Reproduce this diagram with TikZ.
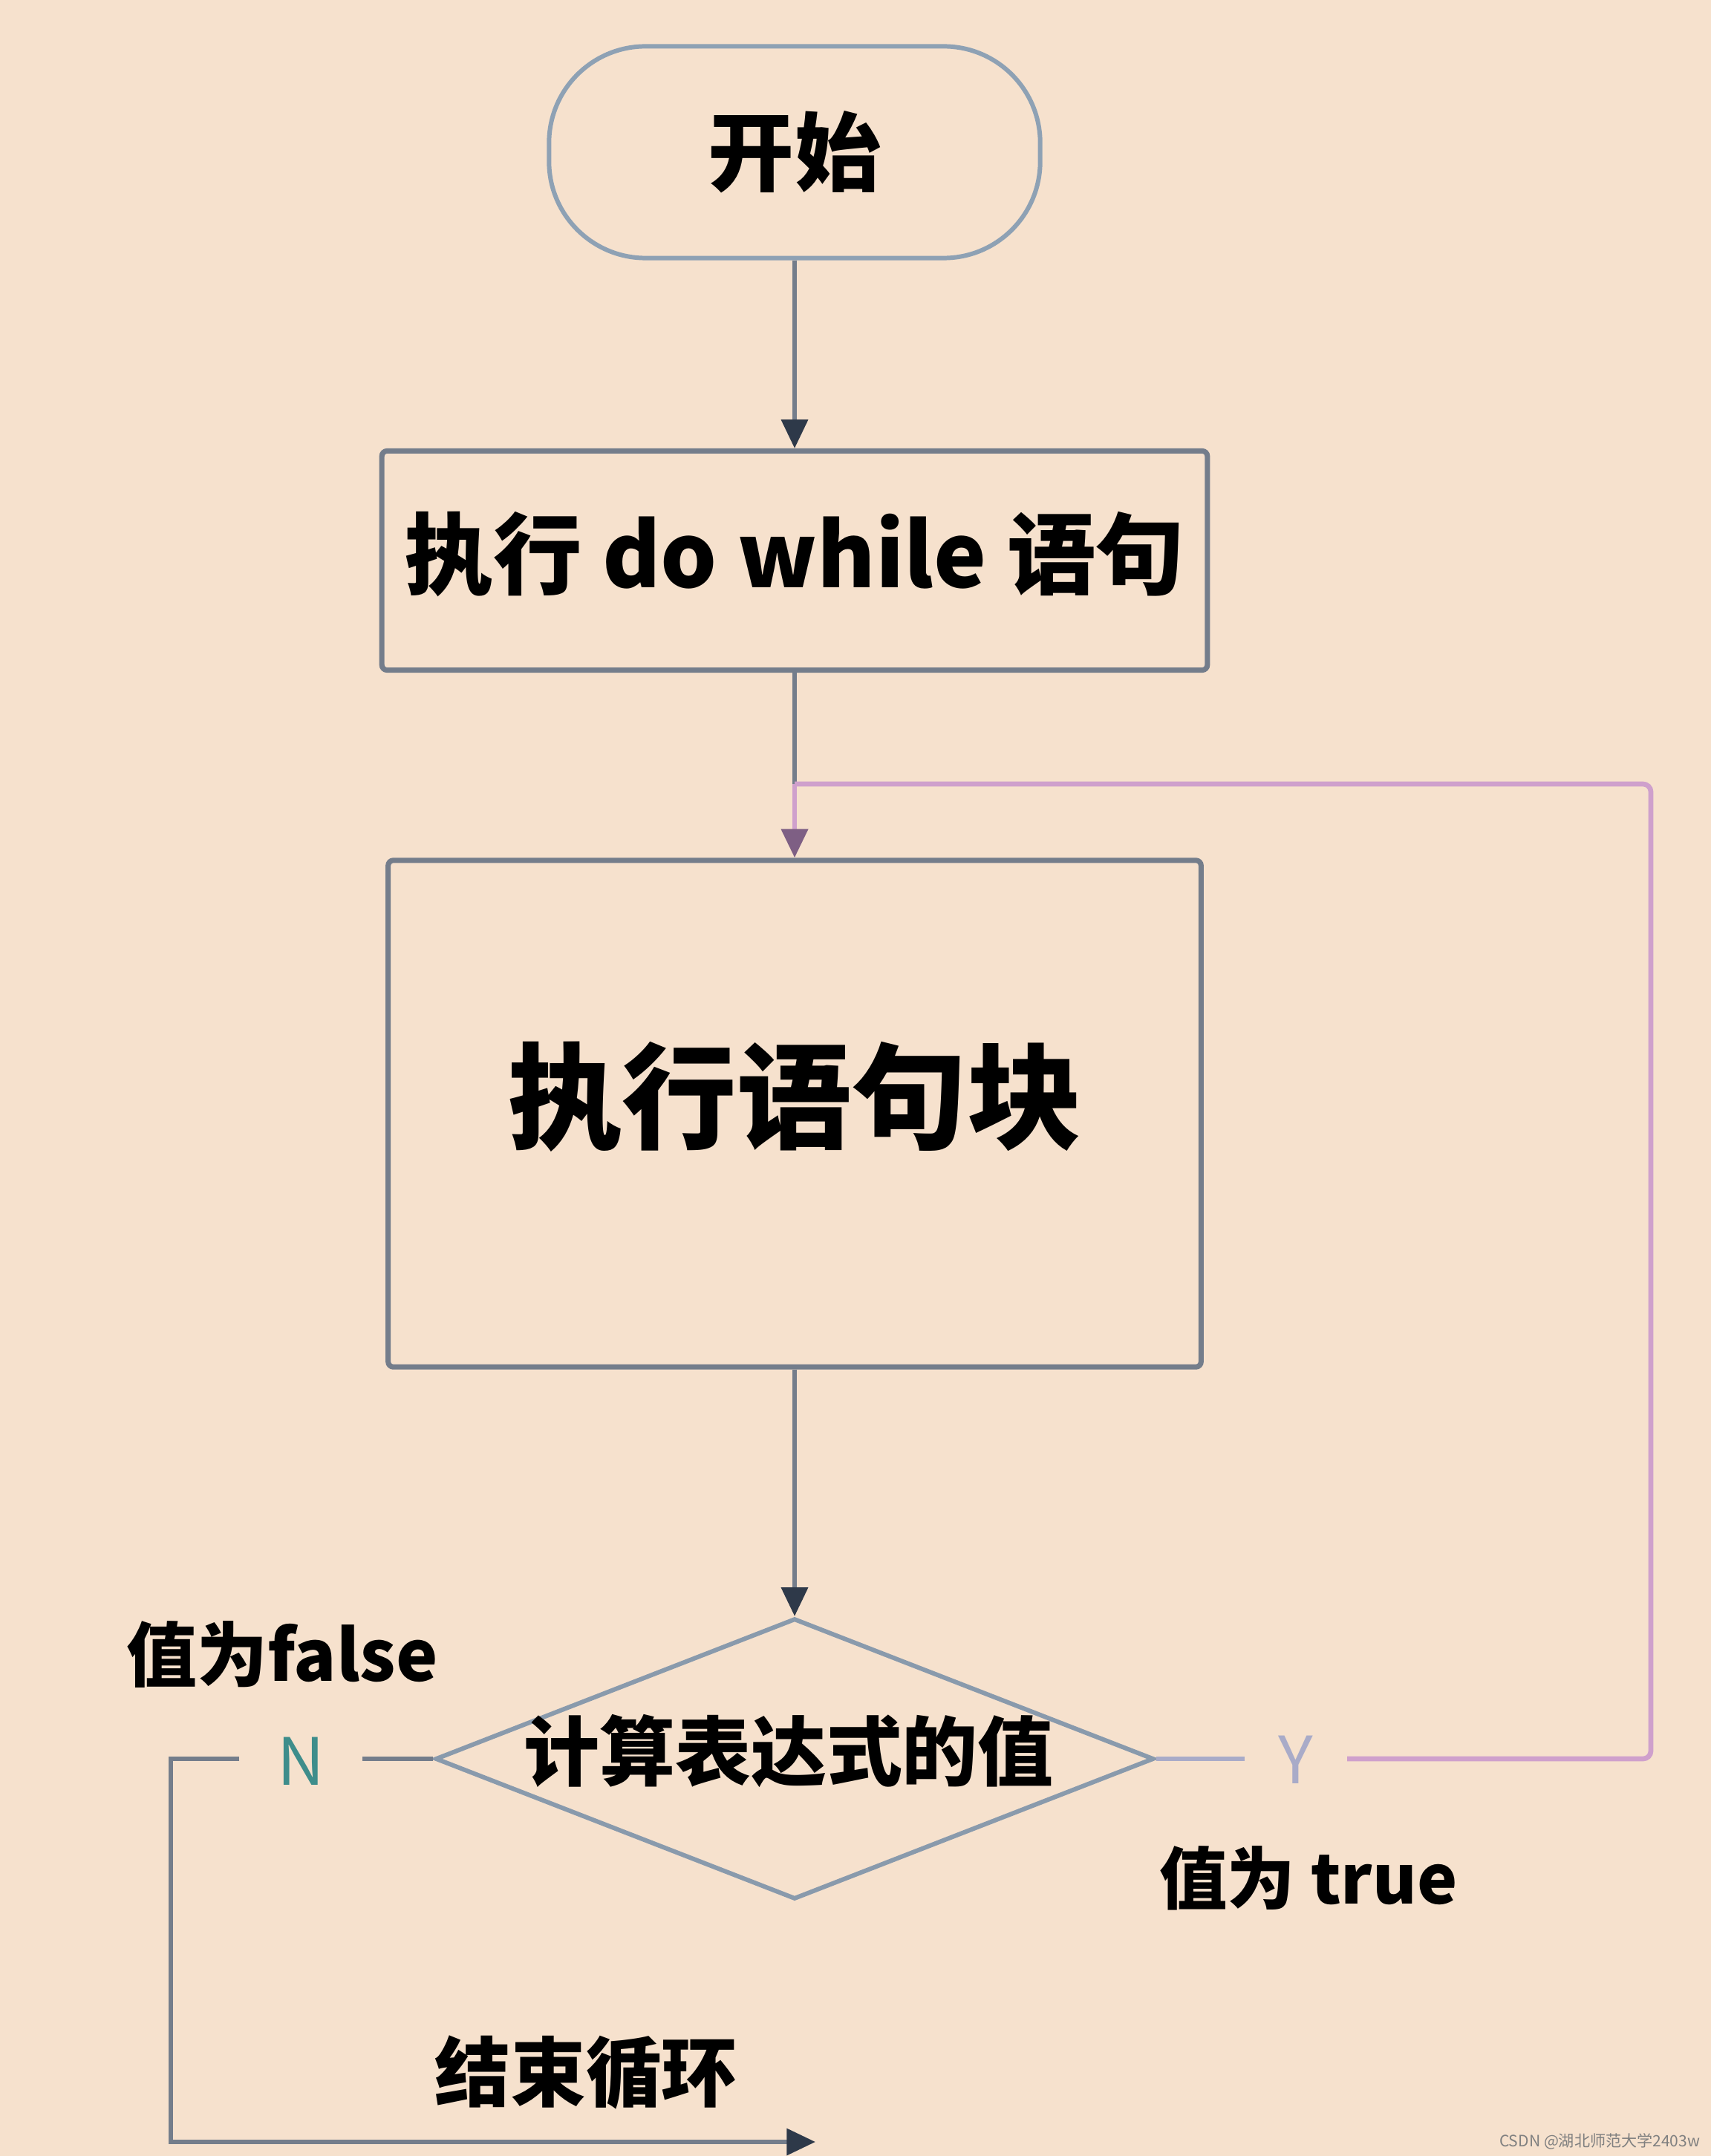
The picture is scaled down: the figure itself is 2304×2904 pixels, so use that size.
\documentclass[tikz,border=0pt]{standalone}
\usepackage{fontspec}
\newfontfamily\cjk{Noto Sans CJK SC}
\usetikzlibrary{arrows.meta,shapes.geometric,positioning}
\definecolor{paper}{HTML}{F6E1CD}
\definecolor{edge}{HTML}{747D8B}
\definecolor{rim}{HTML}{8EA1B4}
\definecolor{loopline}{HTML}{CFA0CC}
\definecolor{tipdark}{HTML}{2E3949}
\definecolor{tipmauve}{HTML}{7E5F84}
\definecolor{nmark}{HTML}{3E8D8B}
\definecolor{ymark}{HTML}{A9ABC8}

\begin{document}
\begin{tikzpicture}[x=.01cm,y=-.01cm,
 box/.style={draw=edge,line width=2pt,rounded corners=2pt,inner sep=0pt},
 flow/.style={draw=edge,line width=1.7pt},
 back/.style={draw=loopline,line width=1.9pt,rounded corners=3pt},
 arrowhead/.style={-{Triangle[length=11pt,width=10pt,color=#1]}},arrowhead/.default=tipdark,
 zh/.style={font=\cjk\bfseries\fontsize{#1}{#1}\selectfont,inner sep=0pt},
 mark/.style={font=\cjk\fontsize{25}{25}\selectfont,text=#1,inner ysep=0pt}]
\fill[paper](0,0)rectangle(2304,2904);\useasboundingbox(0,0)rectangle(2304,2904);
\node[box,draw=rim,line width=1.7pt,rounded corners=1.3cm,minimum width=6.61cm,minimum height=2.85cm,zh=33](start)at(1070,205){开始};
\node[box,minimum width=11.11cm,minimum height=2.95cm,zh=34](stmt)at(1070,755){\raisebox{.3cm}{执行 do while 语句}};
\node[box,minimum width=10.94cm,minimum height=6.82cm,zh=44](block)at(1070,1500){\raisebox{.62cm}{执行语句块}};
\node[diamond,draw=rim!80!edge,line width=1.7pt,inner sep=0pt,minimum width=9.67cm,minimum height=3.78cm](cond)at(1070,2369){};
\node[zh=29](condtext)at(1062,2358){计算表达式的值};
\node[zh=27](falsetxt)at(380,2228){值为false};\node[zh=26](truetxt)at(1762,2530){值为 true};
\node[zh=29](endtxt)at(789,2791){结束循环};
\node[mark=nmark,inner xsep=.5cm](nlab)at(405,2372){N};\node[mark=ymark,inner xsep=.45cm](ylab)at(1745,2370){Y};
\node[font=\cjk\fontsize{6}{6}\selectfont,text=gray,anchor=east,inner sep=0pt](wm)at(2290,2884){CSDN @湖北师范大学2403w};
\coordinate(join)at(1070,1056);\coordinate(ycorner)at(2223,1056);\coordinate(ncorner)at(230,2369);\coordinate(endpt)at(1098,2885);
\draw[flow,arrowhead](start)--(stmt);\draw[flow](stmt)--(join);
\draw[back,arrowhead=tipmauve](join)--(block);
\draw[flow,arrowhead](block)--(cond);
\draw[flow](cond.west)--(cond.west-|nlab.east);\draw[flow,arrowhead](cond.west-|nlab.west)--(ncorner)|-(endpt);
\draw[flow,draw=ymark](cond.east)--(cond.east-|ylab.west);\draw[back](cond.east-|ylab.east)-|(ycorner)--(join);
\end{tikzpicture}
\end{document}
